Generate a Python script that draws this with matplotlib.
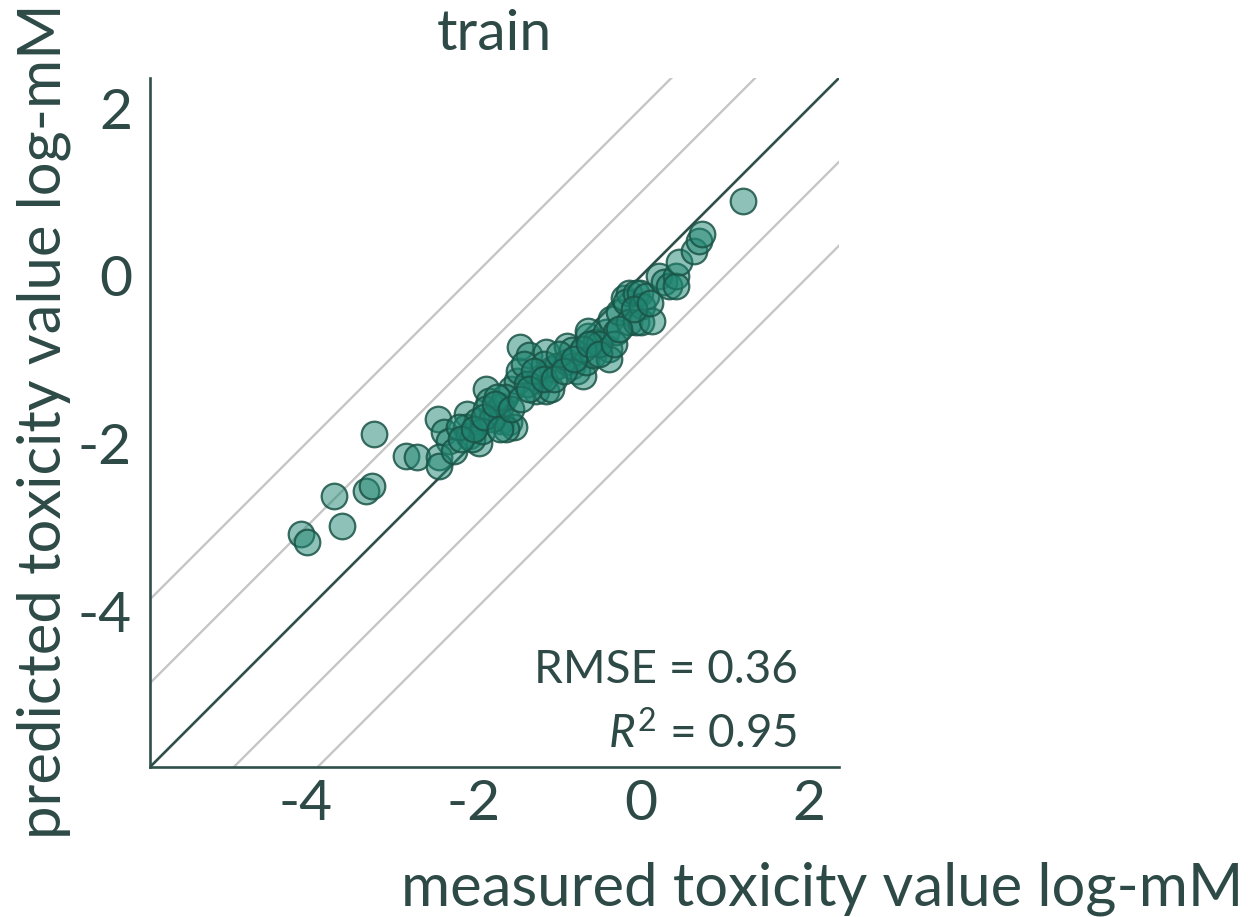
import matplotlib
matplotlib.use("Agg")
import matplotlib.pyplot as plt
import numpy as np

# ---- data ----
measured = [-4.06, -3.99, -3.57, -3.66, -3.28, -3.21, -3.19, -2.80, -2.68,
            -2.43, -2.35, -2.29, -2.41, -2.41, -2.23, -2.08, -2.09, -2.05,
            -1.96, -1.93, -2.02, -1.85, -1.81, -1.85, -1.73, -1.67, -1.67,
            -1.58, -1.52, -1.61, -1.55, -1.48, -1.46, -1.44, -1.34, -1.22,
            -1.25, -1.13, -1.13, -1.06, -1.01, -1.07, -0.89, -0.89, -0.82,
            -0.82, -0.76, -0.70, -0.66, -0.64, -0.58, -0.64, -0.54, -0.42,
            -0.38, -0.36, -0.38, -0.30, -0.26, -0.20, -0.14, -0.18, -0.14,
            -0.06, -0.06, -0.02, 0.01, 0.00, 0.06, 0.13, 0.21, 0.27, 0.33,
            0.42, 0.42, 0.45, 0.63, 0.69, 0.73, 1.21,
            -1.78, -1.63, -1.40, -1.16, -0.98, -0.50, -0.70, -2.17, -1.90,
            -1.36, -1.72, -1.28,
            -2.15, -1.99, -1.87, -1.75, -1.69, -1.55, -1.43, -1.34, -1.16,
            -1.04, -0.92, -0.80, -0.62, -0.50, -0.32, -0.26, -0.08, 0.10]
predicted = [-3.08, -3.17, -2.98, -2.63, -2.57, -2.51, -1.89, -2.15, -2.16,
             -1.71, -1.86, -1.97, -2.16, -2.27, -2.09, -1.65, -1.80, -1.91,
             -1.73, -2.00, -1.95, -1.35, -1.49, -1.59, -1.65, -1.55, -1.73,
             -1.74, -1.80, -1.83, -1.35, -1.26, -1.13, -0.85, -0.94, -1.23,
             -1.38, -1.38, -0.91, -1.11, -1.07, -1.35, -0.84, -1.03, -0.89,
             -1.07, -1.13, -1.19, -1.03, -0.72, -0.95, -0.66, -0.79, -0.67,
             -0.87, -0.51, -0.99, -0.67, -0.43, -0.27, -0.21, -0.31, -0.55,
             -0.21, -0.55, -0.21, -0.36, -0.55, -0.24, -0.54, 0.00, -0.07,
             -0.12, 0.00, -0.12, 0.17, 0.30, 0.42, 0.50, 0.89,
             -1.71, -1.44, -1.05, -1.05, -0.93, -0.81, -0.87, -1.80, -1.85,
             -1.29, -1.44, -1.13,
             -1.95, -1.83, -1.68, -1.53, -1.83, -1.59, -1.47, -1.35, -1.23,
             -1.23, -1.13, -0.99, -0.81, -0.93, -0.81, -0.63, -0.39, -0.33]
ticks = [-4, -2, 0, 2]
tick_labels = ["-4", "-2", "0", "2"]
band_offsets = [-2, -1, 1, 2]
title = "train"
xlabel = "measured toxicity value log-mM"
ylabel = "predicted toxicity value log-mM"
rmse_text = "RMSE = 0.36"
r2_text = "$R^2$ = 0.95"

# ---- style ----
TXT = "#2e4a47"
plt.rcParams["font.family"] = ["Lato", "DejaVu Sans"]
plt.rcParams["axes.unicode_minus"] = False
plt.rcParams["mathtext.fontset"] = "custom"
plt.rcParams["mathtext.rm"] = "Lato"
plt.rcParams["mathtext.it"] = "Lato:italic"

W, H = 1248, 917
fig = plt.figure(figsize=(W / 100, H / 100), dpi=100)
ax_l, ax_b = 150 / W, 1 - 767 / H
ax = fig.add_axes([ax_l, ax_b, 689 / W, 689 / H])

lim = (-5.86, 2.36)
ax.set_xlim(lim)
ax.set_ylim(lim)

for k in band_offsets:
    ax.axline((0, k), slope=1, color="#c6c6c6", lw=1.7, zorder=1)
ax.axline((0, 0), slope=1, color="#2f4f4a", lw=1.9, zorder=2)

ax.scatter(measured, predicted, s=340,
           facecolor=(0.12, 0.52, 0.44, 0.5),
           edgecolor=(0.10, 0.33, 0.28, 0.85),
           linewidths=1.6, zorder=3)

for s in ["top", "right"]:
    ax.spines[s].set_visible(False)
for s in ["left", "bottom"]:
    ax.spines[s].set_color("#2f4f4a")
    ax.spines[s].set_linewidth(1.9)

ax.set_xticks(ticks)
ax.set_xticklabels(tick_labels)
ax.set_yticks(ticks)
ax.set_yticklabels(tick_labels)
ax.tick_params(axis="both", length=0, labelsize=41, colors=TXT)
ax.tick_params(axis="x", pad=9)
ax.tick_params(axis="y", pad=13)

ax.set_title(title, fontsize=41, color=TXT, pad=20)

ax.text(0.94, 0.122, rmse_text, transform=ax.transAxes, ha="right",
        va="baseline", fontsize=33, color=TXT)
ax.text(0.94, 0.0276, r2_text, transform=ax.transAxes, ha="right",
        va="baseline", fontsize=33, color=TXT)

fig.text(1243 / W, 1 - 905 / H, xlabel, ha="right", va="baseline",
         fontsize=43, color=TXT)
fig.text(44 / W, 1 - 421 / H, ylabel, rotation=90, ha="center",
         va="center", fontsize=43, color=TXT)

fig.savefig("out.png", dpi=100)
